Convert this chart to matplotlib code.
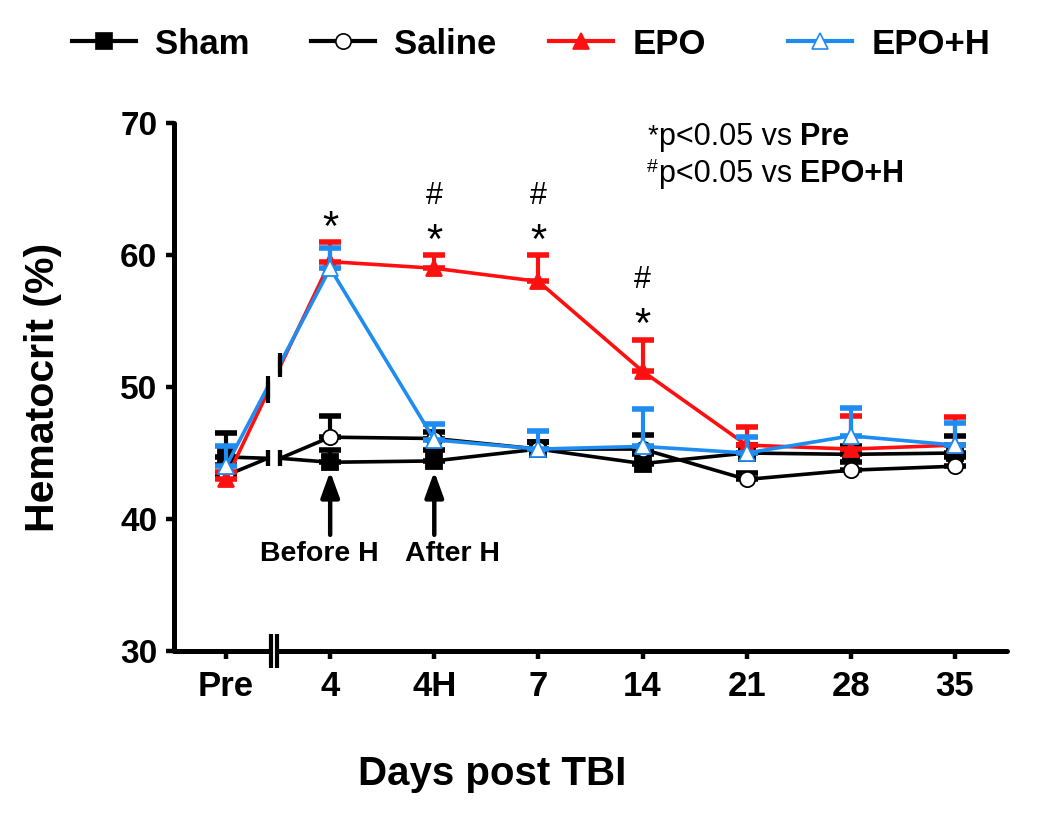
import numpy as np
import matplotlib.pyplot as plt
import matplotlib.transforms as mtransforms
from matplotlib.lines import Line2D

plt.rcParams['font.family'] = ['Liberation Sans', 'DejaVu Sans']
plt.rcParams['font.weight'] = 'bold'
plt.rcParams['axes.labelweight'] = 'bold'

# x categories (days post TBI)
days = ['Pre', '4', '4H', '7', '14', '21', '28', '35']

# hematocrit (%) mean and upper SEM for each group
sham = [44.7, 44.3, 44.4, 45.3, 44.2, 45.0, 44.9, 45.0]
sham_sem = [1.8, 0.9, 0.8, 0.5, 0.7, 0.6, 0.6, 1.3]
saline = [43.3, 46.2, 46.1, 45.3, 45.3, 43.0, 43.7, 44.0]
saline_sem = [0.8, 1.6, 0.5, 0.5, 1.1, 0.5, 0.6, 0.7]
epo = [43.0, 59.5, 59.0, 58.0, 51.2, 45.6, 45.3, 45.6]
epo_sem = [0.6, 1.5, 1.0, 2.0, 2.4, 1.4, 2.5, 2.1]
epoh = [44.0, 59.0, 46.0, 45.3, 45.5, 45.0, 46.3, 45.6]
epoh_sem = [1.5, 1.5, 1.2, 1.4, 2.8, 1.2, 2.1, 1.7]

# level where the two black lines meet at the axis break
break_y = 44.6

# significance marks on the EPO curve (index into days)
star_idx = [1, 2, 3, 4]
hash_idx = [2, 3, 4]

RED = '#ff1010'
BLUE = '#1e8cf0'

groups = [
    ('Sham', sham, sham_sem, 'black', 's', 'black', 'black'),
    ('Saline', saline, saline_sem, 'black', 'o', 'white', 'black'),
    ('EPO', epo, epo_sem, RED, '^', RED, RED),
    ('EPO+H', epoh, epoh_sem, BLUE, '^', 'white', BLUE),
]

fig = plt.figure(figsize=(10.5, 8.16), dpi=100)
ax = fig.add_axes([0.1657, 0.2022, 0.7933, 0.647])

x = np.arange(len(days))
gap_lo, gap_hi = 0.40, 0.52
LW = 2.6


def break_tick(xp, yp, half=0.8):
    ax.plot([xp, xp], [yp - half, yp + half], color='black', lw=3,
            solid_capstyle='butt', zorder=6)


for k, (name, vals, sem, col, mk, face, edge) in enumerate(groups):
    z = 3 + k
    # main line from day 4 onwards
    ax.plot(x[1:], vals[1:], color=col, lw=LW, zorder=z)
    # Pre -> day 4 segment, broken at the axis gap
    if col == 'black':
        ax.plot([x[0], gap_lo], [vals[0], break_y], color=col, lw=LW, zorder=z)
        ax.plot([gap_hi, x[1]], [break_y, vals[1]], color=col, lw=LW, zorder=z)
        break_tick(gap_lo, break_y, 0.6)
        break_tick(gap_hi, break_y, 0.6)
    else:
        y_lo = np.interp(gap_lo, x[:2], vals[:2])
        y_hi = np.interp(gap_hi, x[:2], vals[:2])
        ax.plot([x[0], gap_lo], [vals[0], y_lo], color=col, lw=LW, zorder=z)
        ax.plot([gap_hi, x[1]], [y_hi, vals[1]], color=col, lw=LW, zorder=z)
        break_tick(gap_lo, y_lo)
        break_tick(gap_hi, y_hi)
    # upper error bars only
    ax.errorbar(x, vals, yerr=[np.zeros(len(sem)), sem], fmt='none',
                ecolor=col, elinewidth=3, capsize=8, capthick=4, zorder=z)
    ax.plot(x, vals, ls='none', marker=mk, markersize=11,
            markerfacecolor=face, markeredgecolor=edge, markeredgewidth=1.3,
            zorder=z + 0.5)

# significance symbols above EPO error bars
for i in star_idx:
    ax.annotate('*', xy=(x[i], epo[i] + epo_sem[i]), xytext=(0, 1.5),
                textcoords='offset points', ha='center', va='baseline',
                fontsize=30, fontweight='normal')
for i in hash_idx:
    ax.annotate('#', xy=(x[i], epo[i] + epo_sem[i]), xytext=(0, 37),
                textcoords='offset points', ha='center', va='baseline',
                fontsize=22, fontweight='normal')

# hypoxia arrows
for xi, lab, dx in [(1, 'Before H', -0.1), (2, 'After H', 0.17)]:
    ax.annotate('', xy=(x[xi], 43.6), xytext=(x[xi], 38.8),
                arrowprops=dict(arrowstyle='-|>,head_length=0.55,head_width=0.2',
                                lw=3.2, color='black', mutation_scale=28,
                                shrinkA=0, shrinkB=0))
    ax.text(x[xi] + dx, 38.3, lab, ha='center', va='top', fontsize=20.5)

# footnote
ax.text(0.568, 0.962, '*', transform=ax.transAxes, fontsize=20,
        fontweight='normal', ha='left', va='baseline')
t = ax.text(0.582, 0.958, 'p<0.05 vs ', transform=ax.transAxes, fontsize=22,
            fontweight='normal', ha='left', va='baseline')
ax.annotate('Pre', xy=(1, 0), xycoords=t, ha='left', va='bottom',
            fontsize=22, fontweight='bold')
ax.annotate('#', xy=(0.568, 0.888), xycoords='axes fraction',
            xytext=(0, 7), textcoords='offset points', fontsize=14,
            fontweight='normal', ha='left', va='baseline')
t = ax.text(0.582, 0.888, 'p<0.05 vs ', transform=ax.transAxes, fontsize=22,
            fontweight='normal', ha='left', va='baseline')
ax.annotate('EPO+H', xy=(1, 0), xycoords=t, ha='left', va='bottom',
            fontsize=22, fontweight='bold')

# axes styling
ax.set_xlim(-0.5, 7.5)
ax.set_ylim(30, 70)
ax.set_yticks([30, 40, 50, 60, 70])
ax.set_xticks(x)
ax.set_xticklabels(days)
for s in ['top', 'right']:
    ax.spines[s].set_visible(False)
for s in ['left', 'bottom']:
    ax.spines[s].set_linewidth(3.6)
    ax.spines[s].set_capstyle('round')
ax.tick_params(direction='out', length=6, width=3.2, labelsize=24, pad=6)
ax.tick_params(axis='x', labelsize=25, pad=8)
ax.set_ylabel('Hematocrit (%)', fontsize=29.5, labelpad=42)
ax.set_xlabel('Days post TBI', fontsize=29)
ax.xaxis.set_label_coords(0.382, -0.197)

# break on the x axis
tr = mtransforms.blended_transform_factory(ax.transData, ax.transAxes)
ax.add_patch(plt.Rectangle((0.435, -0.02), 0.055, 0.04, transform=tr,
                           color='white', clip_on=False, zorder=10))
for xb in [0.435, 0.49]:
    ax.plot([xb, xb], [-0.033, 0.033], transform=tr, color='black', lw=3,
            clip_on=False, zorder=11, solid_capstyle='butt')

# legend across the top
leg_x = [72, 311, 549, 788]
for (name, vals, sem, col, mk, face, edge), lx in zip(groups, leg_x):
    h = Line2D([], [], color=col, lw=3, marker=mk, markersize=11,
               markerfacecolor=face, markeredgecolor=edge, markeredgewidth=1.2)
    fig.legend(handles=[h], labels=[name], loc='center left',
               bbox_to_anchor=(lx / 1050, 1 - 44 / 816), frameon=False,
               fontsize=25, handlelength=1.85, handletextpad=0.55,
               borderpad=0, borderaxespad=0)

fig.savefig('out.png', dpi=100)
